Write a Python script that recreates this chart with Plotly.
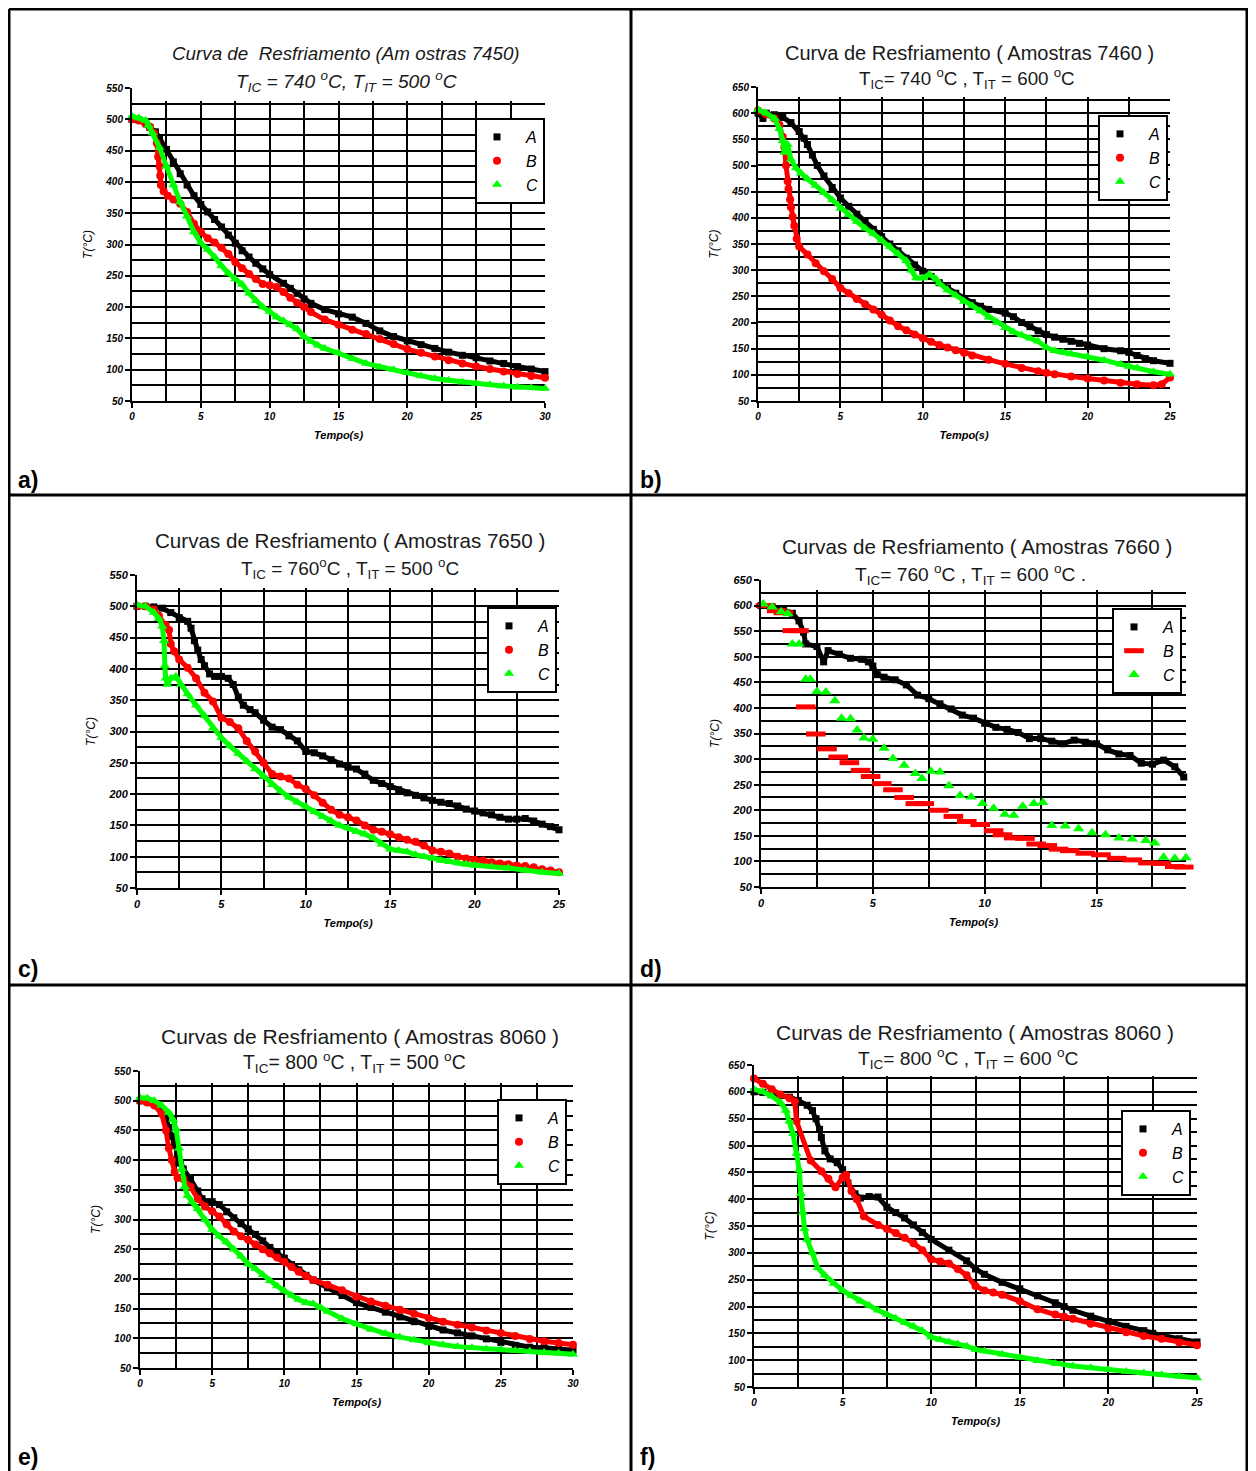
import plotly.graph_objects as go

# page body has an 8px margin: figure coordinates = reference pixels - 8
OFF = 8
FW, FH = 1248, 1463
FONT = "Liberation Sans, Arial, sans-serif"

# ---------------- data: (tempo s, temperatura °C) ----------------
a_A = [(0,500),(0.5,499),(1,496),(1.3,487),(1.7,480),(2,470),(2.5,452),(3,432),(3.5,413),(4,395),(4.5,378),(5,364),(5.5,352),(6,340),(6.5,328),(7,315),(7.5,302),(8,290),(8.5,280),(9,270),(9.5,261),(10,252),(11,238),(11.5,230),(12,222),(12.5,213),(13,206),(14,196),(15,189),(16,184),(17,174),(18,162),(19,153),(20,146),(21,140),(22,134),(23,128),(24,123),(25,119),(26,114),(27,110),(28,105),(29,101),(30,97)]
a_B = [(0,500),(0.5,498),(1,492),(1.3,488),(1.6,478),(1.8,462),(1.9,440),(2.0,425),(2.05,410),(2.1,395),(2.3,385),(2.6,378),(3,372),(3.5,365),(4,352),(4.5,333),(5,320),(5.5,310),(6,303),(6.5,295),(7,285),(7.5,272),(8,262),(8.5,253),(9,245),(9.5,237),(10,235),(10.5,232),(11,224),(11.5,215),(12,207),(12.5,200),(13,192),(14,180),(15,172),(16,164),(17,157),(18,149),(19,141),(20,133),(21,127),(22,121),(23,115),(24,110),(25,105),(26,101),(27,97),(28,93),(29,90),(30,87)]
a_C = [(0,505),(0.5,502),(1,498),(1.2,490),(1.5,478),(2,455),(2.5,425),(3,395),(3.5,368),(4,345),(4.5,320),(5,303),(5.5,292),(6,280),(6.5,266),(7,254),(7.5,245),(8,236),(8.5,222),(9,210),(9.5,200),(10,193),(10.5,184),(11,178),(11.5,172),(12,165),(12.5,153),(13,145),(13.5,139),(14,134),(15,127),(16,118),(17,110),(18,104),(19,100),(20,95),(21,90),(22,86),(23,83),(24,80),(25,78),(26,76),(27,74),(28,72),(29,71),(30,70)]

b_A = [(0,600),(0.3,590),(0.5,600),(1,597),(1.5,592),(2,582),(2.5,565),(2.8,552),(3,540),(3.3,520),(3.6,500),(4,480),(4.5,458),(5,438),(5.5,422),(6,407),(6.5,392),(7,378),(7.5,364),(8,350),(8.5,337),(9,323),(9.5,310),(10,298),(10.5,288),(11,276),(11.5,266),(12,256),(12.5,246),(13,238),(13.5,231),(14,225),(15,218),(15.5,211),(16,200),(16.5,192),(17,184),(17.5,177),(18,172),(18.5,168),(19,164),(19.5,160),(20,157),(21,150),(22,146),(22.5,143),(23,137),(23.5,131),(24,127),(25,122)]
b_B = [(0,605),(0.5,598),(1,590),(1.3,578),(1.5,555),(1.6,535),(1.7,500),(1.8,470),(1.85,455),(1.95,435),(2.0,420),(2.1,402),(2.2,385),(2.35,360),(2.5,345),(3,330),(3.5,313),(4,298),(4.5,283),(5,266),(5.5,256),(6,245),(6.5,235),(7,225),(7.5,215),(8,204),(8.5,193),(9,185),(9.5,177),(10,170),(10.5,163),(11,157),(11.5,152),(12,147),(12.5,142),(13,137),(14,129),(15,121),(16,113),(17,107),(17.5,104),(18,101),(19,97),(20,93),(21,89),(22,85),(23,82),(24,80),(24.5,82),(25,95)]
b_C = [(0,607),(0.5,600),(1,590),(1.3,570),(1.5,548),(1.6,525),(1.8,540),(2,512),(2.3,495),(2.6,485),(3,474),(3.5,462),(4,448),(4.5,434),(5,418),(5.5,406),(6,393),(6.5,380),(7,370),(7.5,357),(8,345),(8.5,332),(9,318),(9.3,300),(9.6,285),(10,285),(10.4,292),(10.8,283),(11,275),(11.5,262),(12,252),(12.5,240),(13,232),(13.5,222),(14,210),(14.5,200),(15,190),(15.5,182),(16,176),(16.5,170),(17,164),(17.5,152),(18,146),(18.5,143),(19,140),(20,135),(21,128),(22,120),(22.5,116),(23,113),(24,106),(25,101)]

c_A = [(0,500),(0.5,500),(1,499),(1.5,497),(2,490),(2.5,482),(3,476),(3.2,465),(3.4,445),(3.6,430),(3.8,415),(4,405),(4.3,392),(4.6,388),(5,388),(5.4,385),(5.7,375),(6,355),(6.3,342),(6.7,335),(7,330),(7.5,318),(8,307),(8.5,303),(9,293),(9.5,285),(10,268),(10.5,266),(11,261),(11.5,255),(12,248),(12.5,243),(13,240),(13.5,232),(14,222),(14.5,217),(15,212),(15.5,207),(16,202),(16.5,198),(17,194),(17.5,190),(18,187),(18.5,185),(19,181),(19.5,176),(20,173),(20.5,170),(21,167),(21.5,163),(22,160),(22.5,160),(23,161),(23.5,157),(24,152),(24.5,148),(25,143)]
c_B = [(0,500),(0.5,500),(1,495),(1.3,485),(1.7,470),(1.9,462),(2.0,440),(2.2,428),(2.5,415),(3,402),(3.5,385),(4,362),(4.5,348),(5,322),(5.5,315),(6,305),(6.5,285),(7,268),(7.5,250),(8,232),(8.5,228),(9,225),(9.5,215),(10,208),(10.5,198),(11,186),(11.5,175),(12,167),(12.5,163),(13,158),(13.5,150),(14,143),(14.5,140),(15,136),(15.5,131),(16,127),(16.5,124),(17,118),(17.5,110),(18,108),(18.5,105),(19,100),(19.5,97),(20,95),(20.5,94),(21,91),(21.5,89),(22,88),(22.5,86),(23,85),(23.5,83),(24,80),(24.5,78),(25,75)]
c_C = [(0,502),(0.5,500),(1,490),(1.3,480),(1.5,468),(1.6,445),(1.65,405),(1.7,385),(1.8,375),(2.0,385),(2.3,388),(2.6,375),(3,360),(3.5,342),(4,325),(4.5,305),(5,290),(5.5,277),(6,265),(6.5,252),(7,240),(7.5,228),(8,215),(8.5,205),(9,195),(9.5,187),(10,180),(10.5,172),(11,164),(11.5,157),(12,150),(12.5,146),(13,140),(13.5,136),(14,130),(14.5,120),(15,112),(15.5,110),(16,108),(16.5,103),(17,100),(17.5,97),(18,94),(18.5,92),(19,90),(19.5,88),(20,86),(21,84),(22,82),(23,78),(24,75),(25,73)]

d_A = [(0,600),(0.5,597),(1,592),(1.4,585),(1.7,570),(1.9,548),(2.0,525),(2.5,520),(2.8,490),(3.0,512),(3.5,505),(4.0,497),(4.5,495),(4.8,490),(5.0,482),(5.2,465),(5.5,460),(6,455),(6.5,445),(7,425),(7.5,418),(8,408),(8.5,398),(9,386),(9.5,380),(10,370),(10.5,362),(11,358),(11.5,352),(12,340),(12.5,340),(13,335),(13.5,330),(14,337),(14.5,333),(15,330),(15.5,318),(16,310),(16.5,307),(17,292),(17.5,290),(18,298),(18.5,285),(18.9,265)]
d_B = [(0.2,600),(0.7,590),(1.0,586),(1.4,551),(1.7,551),(2.0,402),(2.45,349),(2.95,320),(3.45,304),(3.95,293),(4.45,278),(4.9,266),(5.4,252),(5.9,240),(6.4,225),(6.9,213),(7.3,213),(7.95,200),(8.6,188),(9.2,178),(9.8,172),(10.4,160),(10.8,152),(11.3,146),(11.8,145),(12.3,134),(12.8,131),(13.3,124),(13.8,121),(14.5,116),(15.2,113),(15.9,106),(16.6,103),(17.3,97),(17.9,96),(18.5,90),(18.9,89)]
d_C = [(0.1,603),(0.5,597),(0.9,588),(1.2,584),(1.4,525),(1.7,525),(2.0,456),(2.2,456),(2.5,432),(2.9,431),(3.3,414),(3.6,380),(4.0,379),(4.3,357),(4.6,341),(5.0,339),(5.5,321),(5.9,301),(6.4,288),(6.9,272),(7.2,262),(7.6,276),(8.0,275),(8.4,248),(8.9,229),(9.4,226),(9.9,213),(10.4,204),(10.9,192),(11.3,190),(11.7,208),(12.2,213),(12.6,215),(13.0,170),(13.6,169),(14.2,164),(14.8,156),(15.4,152),(16.0,146),(16.6,144),(17.2,141),(17.6,136),(18.0,108),(18.5,106),(19.0,107)]

e_A = [(0,500),(0.5,498),(1,494),(1.5,485),(1.8,470),(2,455),(2.2,440),(2.4,425),(2.6,410),(2.8,395),(3,385),(3.5,368),(4,348),(4.3,335),(4.6,330),(5,330),(5.5,325),(6,313),(6.5,303),(7,293),(7.5,284),(8,275),(8.5,264),(9,253),(9.5,244),(10,235),(10.5,224),(11,215),(11.5,206),(12,198),(13,185),(14,172),(15,160),(16,152),(17,144),(18,136),(19,128),(20,120),(21,114),(22,109),(23,104),(24,99),(25,93),(26,88),(27,85),(28,84),(29,82),(30,80)]
e_B = [(0,500),(0.5,497),(1,492),(1.5,478),(1.8,450),(2,420),(2.2,400),(2.4,380),(2.6,370),(3,368),(3.5,355),(4,335),(4.5,322),(5,314),(5.5,305),(6,292),(6.5,280),(7,272),(7.5,266),(8,258),(8.5,250),(9,243),(9.5,236),(10,229),(10.5,220),(11,212),(11.5,205),(12,198),(13,190),(14,181),(15,170),(16,162),(17,155),(18,148),(19,141),(20,134),(21,128),(22,123),(23,118),(24,113),(25,109),(26,104),(27,99),(28,95),(29,92),(30,89)]
e_C = [(0,505),(0.5,504),(1,500),(1.5,492),(2,480),(2.3,468),(2.5,452),(2.7,420),(2.9,385),(3.1,355),(3.3,340),(3.6,330),(4,318),(4.5,300),(5,283),(5.5,272),(6,262),(6.5,250),(7,238),(7.5,225),(8,217),(8.5,207),(9,197),(9.5,188),(10,180),(10.5,172),(11,165),(11.5,160),(12,158),(12.5,152),(13,145),(14,133),(15,124),(16,115),(17,108),(18,102),(19,97),(20,92),(21,89),(22,86),(23,84),(24,82),(25,81),(26,79),(27,78),(28,76),(29,75),(30,73)]

f_A = [(0,600),(0.5,599),(1,596),(1.5,593),(2,590),(2.5,584),(3,575),(3.3,565),(3.5,550),(3.7,530),(3.8,515),(4,490),(4.3,475),(4.7,468),(5,455),(5.3,430),(5.7,410),(6,402),(6.5,405),(7,404),(7.5,385),(8,375),(8.5,365),(9,352),(9.5,338),(10,325),(11,305),(12,285),(12.5,270),(13,260),(14,245),(15,233),(16,220),(17,207),(17.5,200),(18,193),(19,182),(20,172),(21,163),(22,155),(22.5,150),(23,146),(24,140),(25,134)]
f_B = [(0,625),(0.5,615),(1,605),(1.5,595),(2,588),(2.3,582),(2.4,545),(3.2,472),(3.8,452),(4.2,438),(4.6,422),(5,440),(5.2,445),(5.5,415),(5.8,400),(6.2,368),(7,352),(7.5,345),(8,337),(8.5,328),(9,318),(9.5,305),(10,288),(10.5,284),(11,280),(11.5,270),(12,258),(12.5,238),(13,230),(13.5,226),(14,222),(15,210),(16,195),(17,185),(17.5,181),(18,177),(19,168),(20,159),(21,152),(22,145),(23,140),(24,133),(25,128)]
f_C = [(0,605),(0.5,600),(1,592),(1.5,580),(1.8,565),(2,545),(2.2,522),(2.4,485),(2.55,455),(2.65,410),(2.75,375),(2.85,345),(3,325),(3.3,300),(3.6,272),(4,258),(4.5,243),(5,230),(5.5,220),(6,210),(6.5,202),(7,193),(7.5,185),(8,178),(8.5,170),(9,163),(9.5,155),(10,143),(10.5,138),(11,134),(11.5,130),(12,126),(12.5,120),(13,117),(14,111),(15,105),(16,99),(17,94),(18,89),(19,86),(20,82),(21,79),(22,76),(23,73),(24,70),(25,67)]

series_names = ["A", "B", "C"]
panel_labels = ["a)", "b)", "c)", "d)", "e)", "f)"]
title_line1 = [
    "<i>Curva de  Resfriamento (Am ostras 7450)</i>",
    "Curva de Resfriamento ( Amostras 7460 )",
    "Curvas de Resfriamento ( Amostras 7650 )",
    "Curvas de Resfriamento ( Amostras 7660 )",
    "Curvas de Resfriamento ( Amostras 8060 )",
    "Curvas de Resfriamento ( Amostras 8060 )",
]
title_line2 = [
    "<i>T<sub>IC</sub> = 740 <sup>o</sup>C, T<sub>IT</sub> = 500 <sup>o</sup>C</i>",
    "T<sub>IC</sub>= 740 <sup>o</sup>C , T<sub>IT</sub> = 600 <sup>o</sup>C",
    "T<sub>IC</sub> = 760<sup>o</sup>C , T<sub>IT</sub> = 500 <sup>o</sup>C",
    "T<sub>IC</sub>= 760 <sup>o</sup>C , T<sub>IT</sub> = 600 <sup>o</sup>C .",
    "T<sub>IC</sub>= 800 <sup>o</sup>C , T<sub>IT</sub> = 500 <sup>o</sup>C",
    "T<sub>IC</sub>= 800 <sup>o</sup>C , T<sub>IT</sub> = 600 <sup>o</sup>C",
]
x_max = [30, 25, 25, 19, 30, 25]
y_max = [550, 650, 550, 650, 550, 650]
all_series = [(a_A, a_B, a_C), (b_A, b_B, b_C), (c_A, c_B, c_C),
              (d_A, d_B, d_C), (e_A, e_B, e_C), (f_A, f_B, f_C)]

# ---------------- layout geometry (reference pixels) ----------------
plot_box = [(132, 545, 401, 88), (758, 1170, 401, 87), (137, 559, 888, 575),
            (761, 1186, 887, 580), (140, 573, 1368, 1071), (754, 1197, 1387, 1065)]
legend_pos = [(475, 118), (1098, 115), (487, 607), (1112, 608), (497, 1099), (1121, 1110)]
title_pos = [((346, 53), (346, 81)), ((969, 53), (967, 79)), ((350, 540), (350, 568)),
             ((977, 546), (970, 574)), ((360, 1036), (354, 1062)), ((975, 1032), (968, 1058))]
title_size1 = [18.8, 20, 20.6, 20.6, 21, 21]
title_size2 = [19.2, 18.8, 19, 19.2, 19.4, 19.2]
label_pos = [(16, 480), (638, 480), (16, 969), (638, 969), (16, 1457), (638, 1457)]

colors = ["#000000", "#ff0000", "#00ff00"]
symbols = ["square", "circle", "triangle-up"]
msizes = [7, 8, 9]


def px_x(p):
    return (p - OFF) / FW


def px_y(p):
    return 1 - (p - OFF) / FH


fig = go.Figure()
layout = dict(
    width=FW, height=FH, margin=dict(l=0, r=0, t=0, b=0),
    paper_bgcolor="white", plot_bgcolor="rgba(0,0,0,0)",
    template="none", showlegend=True,
)
annotations = []
shapes = []

for i in range(6):
    k = i + 1
    g = "" if k == 1 else str(k)          # grid subplot (drawn first, below data)
    d = str(k + 6)                         # data subplot
    x0, x1, yb, yt = plot_box[i]
    xmax, ymax = x_max[i], y_max[i]
    gtop = ymax - 20
    ygt = yb - (gtop - 50) / (ymax - 50) * (yb - yt)
    tickf = dict(family=FONT, size=10 if i not in (2, 3) else 11, color="black",
                 style="italic", weight="bold")

    grid_x = [v * 2.5 for v in range(1, int(xmax / 2.5) + 1) if v * 2.5 < xmax]
    grid_y = list(range(75, ymax, 25))

    layout["xaxis" + g] = dict(domain=[px_x(x0), px_x(x1)], range=[0, xmax], anchor="y" + g,
                               tickmode="array", tickvals=grid_x, showticklabels=False, ticks="",
                               showline=False, zeroline=False, showgrid=True,
                               gridcolor="black", gridwidth=2, fixedrange=True)
    layout["yaxis" + g] = dict(domain=[px_y(yb), px_y(ygt)], range=[50, gtop], anchor="x" + g,
                               tickmode="array", tickvals=grid_y, showticklabels=False, ticks="",
                               showline=False, zeroline=False, showgrid=True,
                               gridcolor="black", gridwidth=2, fixedrange=True)
    # invisible placeholder so the grid subplot is created
    fig.add_trace(go.Scatter(x=[xmax / 2], y=[ymax / 2], mode="markers", marker=dict(opacity=0),
                             xaxis="x" + g, yaxis="y" + g, showlegend=False, hoverinfo="skip"))

    major_x = list(range(0, int(xmax) + 1, 5))
    major_y = list(range(50, ymax + 1, 50))
    layout["xaxis" + d] = dict(domain=[px_x(x0), px_x(x1)], range=[0, xmax], anchor="y" + d,
                               tickmode="array", tickvals=major_x, ticktext=[str(v) for v in major_x],
                               ticks="outside", ticklen=5, tickwidth=2, tickcolor="black",
                               showline=True, linecolor="black", linewidth=2, showgrid=False,
                               zeroline=False, tickfont=tickf, automargin=False,
                               title=dict(text="Tempo(s)", standoff=10,
                                          font=dict(family=FONT, size=11, style="italic",
                                                    weight="bold", color="black")))
    layout["yaxis" + d] = dict(domain=[px_y(yb), px_y(yt)], range=[50, ymax], anchor="x" + d,
                               tickmode="array", tickvals=major_y, ticktext=[str(v) for v in major_y],
                               ticks="outside", ticklen=5, tickwidth=2, tickcolor="black",
                               showline=True, linecolor="black", linewidth=2, showgrid=False,
                               zeroline=False, tickfont=tickf, automargin=False,
                               title=dict(text="T(°C)", standoff=10,
                                          font=dict(family=FONT, size=12, style="italic",
                                                    color="black")))

    leg = "legend" if k == 1 else "legend" + str(k)
    lx, ly = legend_pos[i]
    layout[leg] = dict(x=px_x(lx), y=px_y(ly), xanchor="left", yanchor="top",
                       bordercolor="black", borderwidth=2, bgcolor="white",
                       font=dict(family=FONT, size=16, style="italic", color="black"),
                       tracegroupgap=0, itemclick=False, itemdoubleclick=False)

    for s in range(3):
        data = all_series[i][s]
        t = [p[0] for p in data]
        T = [p[1] for p in data]
        is_step = (i == 3 and s > 0)
        if not is_step:
            fig.add_trace(go.Scatter(x=t, y=T, mode="lines", xaxis="x" + d, yaxis="y" + d,
                                     line=dict(color=colors[s], width=5), showlegend=False,
                                     hoverinfo="skip", cliponaxis=False))
        if i == 3 and s == 1:
            marker = dict(symbol="line-ew", size=14, color=colors[s],
                          line=dict(color=colors[s], width=5))
        elif i == 3 and s == 2:
            marker = dict(symbol="triangle-up", size=10, color=colors[s], line=dict(width=0))
        else:
            marker = dict(symbol=symbols[s], size=msizes[s], color=colors[s], line=dict(width=0))
        fig.add_trace(go.Scatter(x=t, y=T, mode="markers", xaxis="x" + d, yaxis="y" + d,
                                 marker=marker, name="\u00a0\u00a0" + series_names[s],
                                 legend=leg, cliponaxis=False))

    (t1x, t1y), (t2x, t2y) = title_pos[i]
    annotations.append(dict(text=title_line1[i], x=px_x(t1x), y=px_y(t1y), xref="paper", yref="paper",
                            xanchor="center", yanchor="middle", showarrow=False,
                            font=dict(family=FONT, size=title_size1[i], color="#1a1a1a")))
    annotations.append(dict(text=title_line2[i], x=px_x(t2x), y=px_y(t2y), xref="paper", yref="paper",
                            xanchor="center", yanchor="middle", showarrow=False,
                            font=dict(family=FONT, size=title_size2[i], color="#1a1a1a")))
    lbx, lby = label_pos[i]
    annotations.append(dict(text="<b>" + panel_labels[i] + "</b>", x=px_x(lbx), y=px_y(lby),
                            xref="paper", yref="paper", xanchor="left", yanchor="middle",
                            showarrow=False, font=dict(family=FONT, size=23, color="black")))

# table borders
border = dict(color="black", width=3)
for (xa, ya, xb, yb_) in [(9, 9, 1248, 9), (9, 9, 9, 1471), (1247, 9, 1247, 1471),
                          (631, 9, 631, 1471), (9, 495, 1248, 495), (9, 985, 1248, 985)]:
    shapes.append(dict(type="line", xref="paper", yref="paper", x0=px_x(xa), y0=px_y(ya),
                       x1=px_x(xb), y1=px_y(yb_), line=border))

layout["annotations"] = annotations
layout["shapes"] = shapes
fig.update_layout(**layout)
fig.write_html("out.html")
